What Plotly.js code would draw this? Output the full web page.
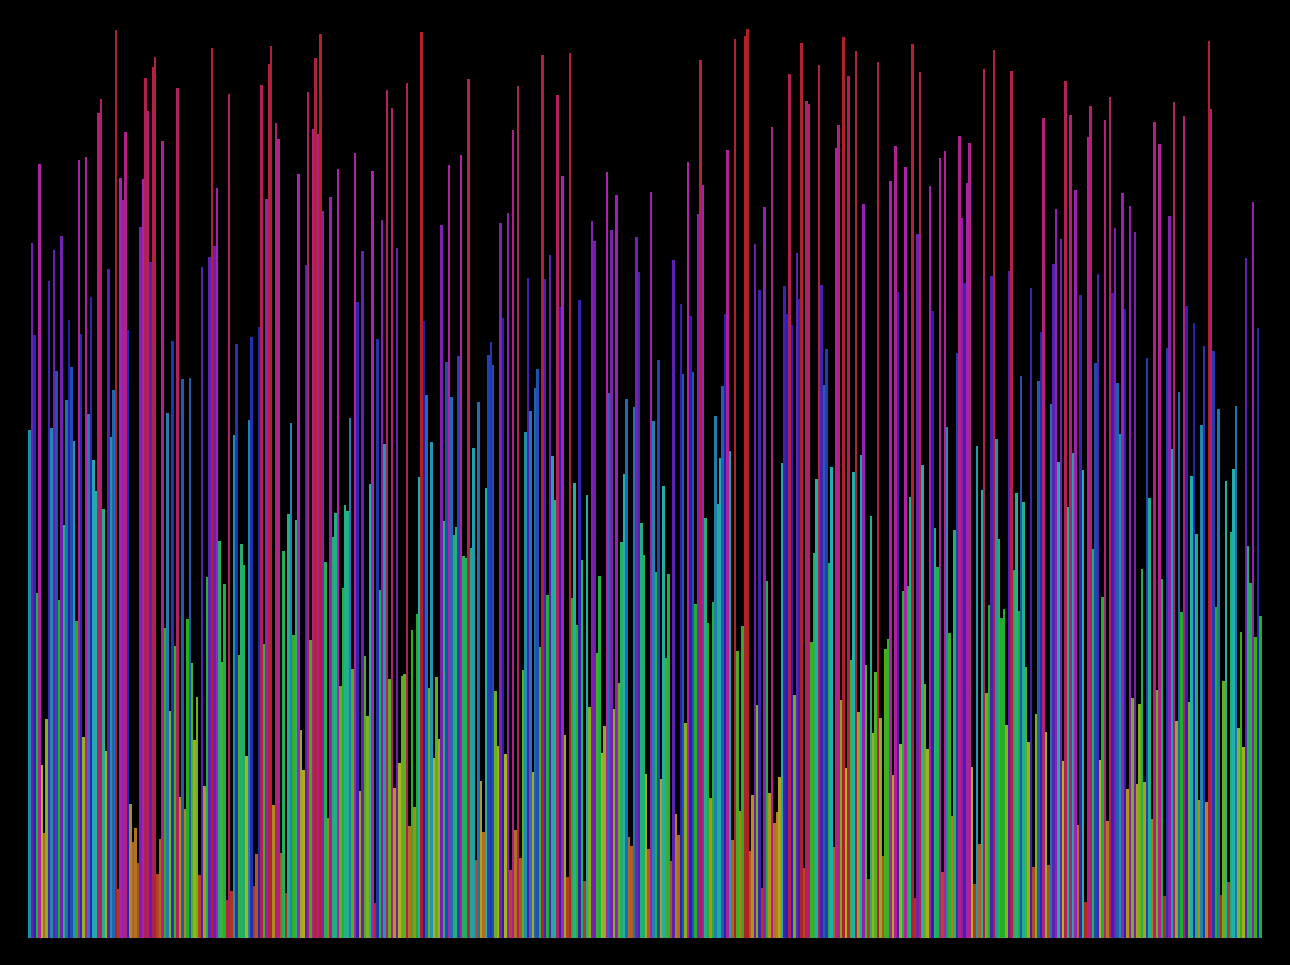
<!DOCTYPE html>
<html>
<head>
<meta charset="utf-8">
<script src="https://cdn.plot.ly/plotly-3.0.1.min.js"></script>
<style>html,body{margin:0;padding:0;background:#000;overflow:hidden}#chart{width:1290px;height:965px}</style>
</head>
<body>
<div id="chart"></div>
<script>
const barValues = [
861,1178,1022,585,1312,293,178,371,1114,864,1166,961,573,1190,700,912,1047,968,842,537,1319,1024,341,1324,888,1086,810,758,1398,1422,727,317,1134,849,929,1539,83,1288,1251,1366,
1031,227,163,186,127,1205,1286,1458,1402,1146,1476,1493,108,168,1351,525,890,385,1012,495,1441,239,947,219,541,949,466,336,408,107,1137,258,612,1154,1509,1173,1271,673,468,600,64,1431,80,853,1007,480,668,632,308,878,1019,88,142,1036,1446,
498,1253,1481,1512,225,1381,1354,144,656,76,719,873,513,708,1295,352,285,1141,1434,505,1371,1492,1363,1532,1232,637,203,1256,680,720,1303,427,593,734,724,881,456,1331,1078,249,1164,478,376,769,1300,59,1015,590,1217,837,1437,439,1407,254,1170,297,
444,447,1449,190,522,222,549,781,1536,1046,920,424,841,305,442,337,1208,707,976,1310,917,683,697,986,1327,647,644,1456,661,830,132,908,266,180,763,988,1010,971,419,325,1212,1051,312,1229,115,1370,183,1444,135,454,858,1119,893,281,932,
964,493,1497,1117,581,1158,817,742,1429,1069,1292,344,103,1500,576,771,530,1081,641,96,751,391,1215,1181,483,614,313,359,1298,924,1200,388,1259,432,671,786,914,171,156,900,1188,1129,703,649,278,151,1264,876,620,980,269,766,475,617,130,1149,
210,174,1075,956,364,1315,1054,959,566,1227,1488,1276,712,534,237,569,885,736,814,936,1058,1336,825,166,1524,486,215,529,1529,1541,147,242,1176,395,1098,85,1239,605,246,1375,195,213,273,805,1105,1058,1464,1039,412,1161,1083,1517,119,1419,1414,
502,652,778,1480,1107,937,998,636,798,154,1339,1378,403,1527,288,1461,471,790,1503,383,819,1244,463,100,715,347,451,1485,373,139,490,507,1283,276,1342,1095,329,588,1307,597,747,1515,68,1193,1468,802,430,320,1275,1063,695,629,1322,112,1334,866,
517,207,691,992,1359,1220,1110,1280,1347,290,91,834,159,759,1473,415,564,1122,1505,846,676,542,558,361,1131,1470,624,754,554,953,739,459,332,1102,120,380,944,1027,1390,349,124,905,1142,1236,807,1185,300,1453,730,1395,822,1268,191,1090,793,
61,1358,1410,659,975,1125,302,578,1386,198,1425,1093,1203,941,854,1263,1066,252,1241,407,1197,261,397,625,264,983,746,202,1383,420,1346,608,71,1000,1224,829,1417,368,925,552,1393,1071,400,783,1042,685,234,869,1003,230,1520,1405,995,561,897,73,
436,775,95,688,795,902,356,519,324,1153,664,602,1247,510,1034,546
];
const barCategories = barValues.map((_, i) => i);
const valueMax = 1556;
const hueStart = -11;
const huePerValue = 0.24;
const saturation = 68;
const lightness = 41;
const barColors = barValues.map(v => {
  const hue = ((hueStart + v * huePerValue) % 360 + 360) % 360;
  return `hsl(${hue.toFixed(1)},${saturation}%,${lightness}%)`;
});

Plotly.newPlot('chart', [{
  type: 'bar',
  x: barCategories,
  y: barValues,
  marker: {color: barColors, line: {width: 0}},
  hoverinfo: 'y'
}], {
  width: 1290,
  height: 965,
  margin: {l: 28, r: 28, t: 20, b: 27, pad: 0},
  paper_bgcolor: '#000000',
  plot_bgcolor: '#000000',
  bargap: 0,
  showlegend: false,
  xaxis: {range: [-0.5689, 499.573], visible: false, fixedrange: true},
  yaxis: {range: [0, valueMax], visible: false, fixedrange: true}
}, {displayModeBar: false, staticPlot: true});
</script>
</body>
</html>
